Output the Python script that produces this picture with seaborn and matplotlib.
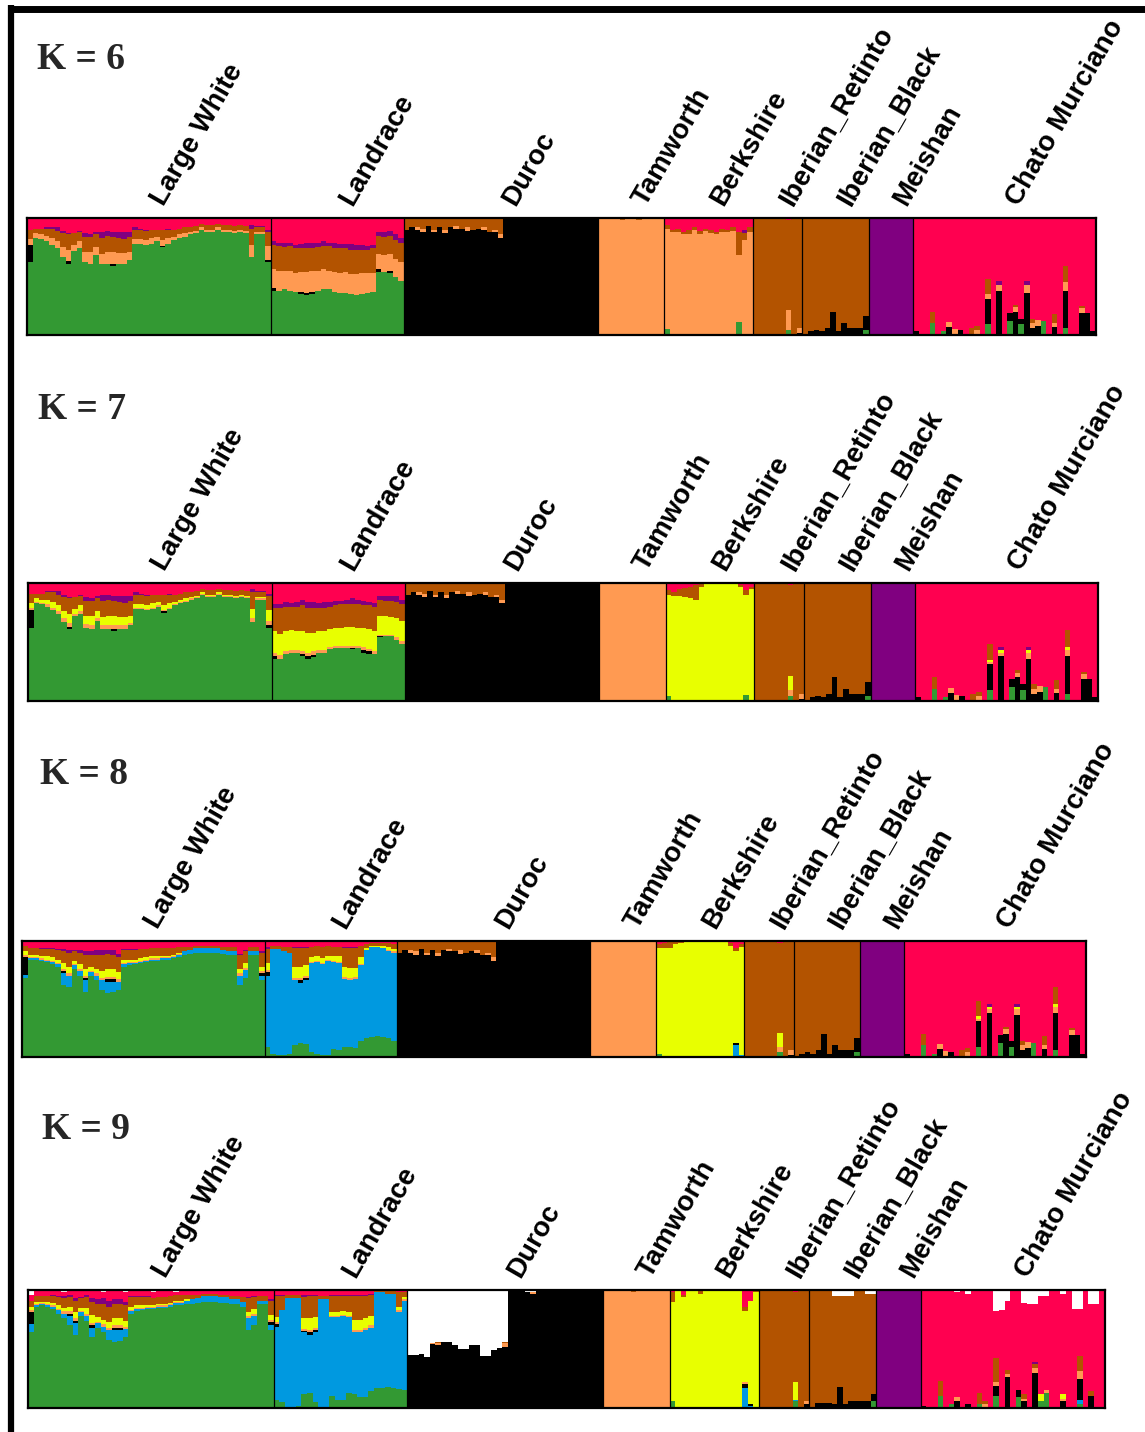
import numpy as np
import pandas as pd
import matplotlib
matplotlib.use("Agg")
import matplotlib.pyplot as plt
from matplotlib.lines import Line2D
from matplotlib.transforms import blended_transform_factory, offset_copy
import seaborn as sns

# ---------------------------------------------------------------- breeds
breeds = ["Large White", "Landrace", "Duroc", "Tamworth", "Berkshire",
          "Iberian_Retinto", "Iberian_Black", "Meishan", "Chato Murciano"]
breed_sizes = [44, 24, 35, 12, 16, 9, 12, 8, 33]

cluster_colors = {
    "green": "#339933", "blue": "#0099e0", "black": "#000000",
    "lorange": "#ff9a52", "yellow": "#e8ff00", "brown": "#b35300",
    "purple": "#800080", "pink": "#ff0050", "white": "#ffffff",
}
# clusters from the bottom of a bar to its top
stack_order = ["green", "blue", "black", "lorange", "yellow",
               "brown", "purple", "pink", "white"]

# ---------------------------------------------------------------- K = 6 (percent membership)
lw6_green = [62,83,82,80,77,74,67,61,72,74,62,61,68,61,61,59,61,61,64,78,78,77,
             78,80,75,78,81,83,84,86,87,90,88,88,90,88,88,87,88,87,67,86,86,62]
lw6_black = {0: 15, 7: 2, 15: 2, 24: 1, 43: 2}
lw6_lorange = [5,4,4,5,6,6,8,10,5,6,9,10,7,8,10,10,9,9,7,4,4,4,
               5,4,5,5,3,3,3,2,2,2,2,2,2,2,2,2,2,2,10,2,2,12]
lw6_brown = [8,4,5,6,8,9,12,13,10,8,13,13,11,14,14,13,13,12,13,8,8,8,
             7,6,9,7,6,5,5,4,4,3,4,4,3,4,4,4,4,4,14,4,4,12]
lw6_purple = [0,0,0,1,1,3,2,1,0,1,3,2,2,5,4,4,5,6,4,2,1,1,
              0,0,0,1,0,0,0,0,0,0,0,0,0,0,0,0,0,0,3,1,1,2]

lr6_green = [38,38,39,38,37,35,34,35,38,39,39,37,36,36,35,34,35,36,37,54,54,53,50,46]
lr6_black = {0: 2, 5: 2, 6: 2, 7: 2, 19: 2, 21: 2}
lr6_lorange = [16,17,16,17,16,17,18,18,17,17,16,17,17,18,17,18,18,17,16,13,14,14,15,16]
lr6_brown = [21,21,20,21,21,20,20,19,20,20,21,20,21,20,21,21,20,20,21,16,16,16,16,17]
lr6_purple = [3,3,4,3,3,4,5,5,4,4,3,5,4,4,5,4,4,3,3,3,4,4,5,4]

du_brown = [10,8,8,9,7,10,8,10,8,7,9,8,10,9,8,12,10,14,1,1,
            0,0,0,0,0,0,0,0,0,0,0,0,0,0,0]
du_lorange = {2: 2, 3: 3, 5: 2, 7: 3, 9: 2, 11: 3, 14: 2, 16: 2, 17: 3}

ta6_brown = {0: 1, 4: 2, 7: 2, 9: 1}

be6_pink = [6,10,9,12,10,8,11,9,10,12,9,10,8,12,10,8]
be6_brown = [3,2,3,2,4,2,3,2,3,2,3,2,3,20,6,4]
be6_purple = {14: 3}
be6_green = {0: 5, 13: 11, 14: 1}

ir6_green = {6: 4}
ir6_lorange = {6: 17, 8: 4}
ir6_black = {8: 2}
ir6_pink = {6: 2}

ib_black = [0,3,4,3,6,20,3,10,6,6,6,12]
ib_green = {11: 4}

cm6_spikes = {
    0: dict(black=3), 3: dict(green=10, brown=10), 5: dict(green=3),
    6: dict(black=7, lorange=4), 7: dict(lorange=5), 8: dict(black=4),
    10: dict(brown=6), 11: dict(lorange=4, brown=4),
    13: dict(green=9, black=22, lorange=4, brown=13),
    15: dict(black=38, lorange=5, purple=3), 17: dict(green=12, black=7),
    18: dict(black=20, lorange=4, brown=2), 19: dict(green=9, black=5),
    20: dict(black=36, lorange=7, purple=3),
    21: dict(black=6, lorange=4, brown=4), 22: dict(black=8, lorange=5),
    23: dict(green=12), 25: dict(black=7, lorange=3, brown=8),
    27: dict(green=6, black=32, lorange=7, brown=14),
    30: dict(black=19, lorange=4, brown=2), 31: dict(black=19), 32: dict(black=3),
}

# ---------------------------------------------------------------- K = 7
lw7_lorange = [2,1,1,2,2,2,3,3,2,2,3,3,2,3,3,3,3,3,2,1,1,1,
               1,1,1,1,1,1,1,1,1,1,1,1,1,1,1,1,1,1,3,1,1,4]
lw7_yellow = [4,3,3,4,5,5,6,8,4,5,7,8,6,7,8,8,7,7,6,3,3,3,
              4,3,4,4,2,2,2,1,1,1,1,1,1,1,1,1,1,1,8,1,1,9]

lr7_green = [36,36,40,41,41,38,36,37,41,41,44,45,45,45,44,45,41,40,40,54,55,55,52,48]
lr7_black = {0: 2, 5: 2, 6: 2, 7: 2, 14: 1, 16: 2, 17: 2, 19: 1}
lr7_lorange = [3,3,2,2,2,2,3,3,2,2,2,2,2,2,2,2,3,2,2,1,1,1,2,3]
lr7_yellow = [18,18,17,17,16,17,17,16,16,16,15,15,15,16,16,15,16,17,17,16,16,15,16,17]
lr7_brown = [20,22,21,20,21,22,21,21,20,20,19,19,20,19,19,20,19,20,21,14,13,14,14,14]
lr7_purple = [3,3,4,3,4,5,5,5,4,5,4,4,3,4,5,4,4,3,3,3,4,4,5,4]

be7_pink = [6,8,5,4,3,2,1,1,1,1,1,1,1,2,6,3]
be7_brown = [4,3,6,8,10,12,2,0,0,0,0,0,0,1,4,2]
be7_green = {0: 4, 14: 5, 15: 1}

ir7_lorange = {6: 5, 8: 4}
ir7_yellow = {6: 12}

cm78_spikes = {
    0: dict(black=3), 3: dict(green=10, brown=10), 5: dict(green=3),
    6: dict(black=7, lorange=4), 7: dict(lorange=5), 8: dict(black=4),
    10: dict(brown=6), 11: dict(lorange=4, brown=4),
    13: dict(green=9, black=22, lorange=2, yellow=2, brown=13),
    15: dict(black=38, lorange=3, yellow=2, purple=3), 17: dict(green=12, black=7),
    18: dict(black=20, lorange=4, brown=2), 19: dict(green=9, black=5),
    20: dict(black=36, lorange=5, yellow=2, purple=3),
    21: dict(black=6, lorange=4, brown=4), 22: dict(black=8, lorange=5),
    23: dict(green=12), 25: dict(black=7, lorange=3, brown=8),
    27: dict(green=6, black=32, lorange=5, yellow=3, brown=14),
    30: dict(black=19, lorange=4, brown=2), 31: dict(black=19), 32: dict(black=3),
}

# ---------------------------------------------------------------- K = 8
lw8_green = [68,84,84,83,82,80,78,62,60,76,70,56,70,66,58,55,56,58,78,79,80,81,
             82,83,83,84,84,85,86,88,89,90,90,90,90,90,89,88,88,62,68,88,88,66]
lw8_blue = [3,1,1,1,1,2,2,10,10,3,4,10,3,4,8,10,9,7,2,2,1,1,
            1,1,1,1,1,1,2,3,3,4,4,4,4,4,3,3,3,8,7,3,3,4]
lw8_black = {0: 15, 7: 2, 11: 2, 15: 2, 16: 2, 43: 2}
lw8_yellow = [3,2,2,2,3,3,3,5,6,3,4,6,4,4,6,7,7,6,3,2,2,2,
              2,2,2,1,1,1,1,0,0,0,0,0,0,0,0,0,0,4,4,0,0,4]
lw8_lorange = [2,1,1,1,1,1,1,2,2,1,2,2,1,2,2,2,2,2,1,1,1,1,
               1,1,1,1,1,1,1,0,0,0,0,0,0,0,0,0,0,2,2,0,0,2]
lw8_brown = [5,6,6,6,6,7,8,10,12,8,10,12,10,12,14,13,12,13,8,8,8,8,
             7,7,7,7,7,6,5,4,3,2,2,2,2,2,3,4,4,12,10,4,4,12]
lw8_purple = [0,0,0,1,1,1,1,2,2,1,2,3,3,4,4,3,4,3,1,1,1,0,
              0,0,0,0,0,0,0,0,0,0,0,0,0,0,0,0,0,1,1,0,0,1]

lr8_green = [9,3,2,2,3,10,12,11,4,3,2,2,7,6,9,9,8,14,16,17,18,17,16,14]
lr8_black = {0: 3, 6: 2, 7: 2}
lr8_yellow = [6,0,0,0,0,10,10,9,4,4,4,3,4,5,9,9,8,6,2,1,1,2,3,2]
lr8_lorange = [2,0,0,0,0,2,2,2,1,1,1,1,1,1,2,2,2,1,0,0,0,0,1,1]
lr8_brown = [12,3,3,4,5,16,16,15,9,9,10,9,8,8,16,17,17,10,3,2,2,2,3,4]
lr8_purple = {0: 2, 5: 1, 6: 1, 7: 1, 14: 1, 15: 1, 16: 1}
lr8_pink = [5,4,4,5,5,5,5,5,5,4,5,4,5,5,5,5,5,4,3,2,2,2,2,3]

be8_pink = [3,2,1,1,1,0,0,0,0,0,0,0,1,2,6,3]
be8_brown = [3,4,5,2,1,0,0,0,0,0,0,0,0,2,3,2]
be8_blue = {14: 10, 15: 2}
be8_black = {14: 2}
be8_green = {0: 3}

# ---------------------------------------------------------------- K = 9
lw9_green = [64,86,87,86,84,80,76,70,62,78,74,60,68,64,58,56,57,60,80,82,83,84,
             84,85,85,86,87,87,88,88,89,90,90,90,89,89,88,88,86,66,70,88,88,66]
lw9_blue = [7,1,1,1,2,3,4,8,10,3,4,8,4,5,8,10,9,7,2,2,1,1,
            1,1,1,1,2,2,3,4,4,5,5,5,5,5,4,4,4,10,8,3,3,4]
lw9_black = {0: 10, 7: 2, 8: 2, 11: 2, 15: 2, 16: 2, 43: 3}
lw9_yellow = [3,2,1,2,2,3,3,4,5,3,5,7,4,4,5,6,6,5,3,2,2,1,
              1,1,1,1,1,1,1,0,0,0,0,0,0,0,0,0,0,3,4,0,0,4]
lw9_lorange = [2,1,1,1,1,1,2,2,2,1,2,2,1,2,2,2,2,2,1,1,1,1,
               1,1,1,1,1,1,0,0,0,0,0,0,0,0,0,0,0,2,2,0,0,2]
lw9_brown = [5,5,5,5,6,7,8,8,10,8,9,11,11,13,13,12,12,13,8,7,7,7,
             6,6,6,6,5,5,4,4,3,2,2,2,2,2,3,3,4,12,10,4,4,12]
lw9_purple = [0,0,0,0,1,1,2,2,2,1,2,3,4,5,5,4,4,3,1,1,1,1,
              0,0,0,0,0,0,0,0,0,0,0,0,0,0,0,0,0,1,1,0,0,1]
lw9_white = {0: 4, 6: 2, 13: 2, 17: 2, 22: 2, 26: 2}

lr9_green = [7,5,1,1,2,12,13,5,1,1,10,7,7,13,12,9,9,14,17,17,18,17,16,15]
lr9_black = {0: 2, 5: 1, 6: 2, 7: 2}
lr9_yellow = [4,0,0,0,0,9,10,9,0,0,3,3,3,3,9,9,8,8,0,0,0,0,3,2]
lr9_lorange = [2,0,0,0,0,2,2,2,0,0,1,1,1,1,2,2,2,2,0,0,0,0,2,1]
lr9_brown = [18,12,3,3,3,18,19,18,3,3,14,14,13,14,20,20,19,18,1,1,2,2,12,4]
lr9_purple = [1,1,0,0,0,2,1,1,0,0,1,1,1,1,1,1,1,1,0,0,0,0,0,0]
lr9_pink = [4,4,4,4,4,4,4,4,5,5,4,4,4,4,4,4,4,3,1,1,1,1,2,2]

du9_black = [45,45,46,43,54,53,56,56,53,50,50,53,53,44,44,49,51,52,
             100,100,100,98,97,100,100,100,100,100,100,100,100,100,100,100,100]
du9_lorange = {4: 1, 5: 2, 17: 3, 22: 1}
du9_brown = {5: 1, 17: 1}

ta9_brown = {5: 2}

be9_spikes = {
    0: dict(green=6, brown=8, pink=2), 2: dict(brown=2, pink=4), 5: dict(brown=3),
    13: dict(blue=17, black=3, lorange=2, brown=4, pink=14),
    14: dict(blue=2, black=1, pink=9), 15: dict(brown=2),
}

ir9_spikes = {6: dict(green=6, blue=1, yellow=15, pink=2), 8: dict(black=3, lorange=3)}

ib9_black = [0,4,4,4,3,18,3,6,6,6,6,6]
ib9_green = {11: 6}
ib9_white = {4: 5, 5: 5, 6: 5, 7: 5, 10: 3, 11: 3}

cm9_spikes = {
    0: dict(black=2), 3: dict(green=10, brown=13), 5: dict(green=3),
    6: dict(black=6, lorange=3), 8: dict(black=3), 10: dict(green=3, brown=10),
    11: dict(lorange=3, brown=3), 13: dict(green=10, black=9, lorange=3, brown=20),
    15: dict(black=26, lorange=3, brown=3), 17: dict(green=9, black=6),
    18: dict(black=6, lorange=2, brown=4),
    20: dict(black=30, lorange=4, brown=3, purple=2),
    21: dict(green=6, yellow=6), 22: dict(green=13, lorange=2),
    25: dict(black=6, lorange=2, yellow=4),
    28: dict(green=3, blue=4, black=18, lorange=6, brown=13),
    30: dict(black=10, brown=4),
}
cm9_white = {6: 2, 8: 3, 13: 18, 14: 17, 15: 9, 18: 11, 19: 12, 20: 12,
             21: 5, 22: 5, 25: 3, 27: 16, 28: 16, 30: 12, 31: 12}


# ---------------------------------------------------------------- helpers
def spikes(table, extra=None):
    """Turn {individual: {cluster: pct}} into {cluster: {individual: pct}}."""
    parts = {}
    for idx, comps in table.items():
        for comp, v in comps.items():
            parts.setdefault(comp, {})[idx] = v
    for comp, vals in (extra or {}).items():
        parts[comp] = vals
    return parts


def breed_columns(n, main, parts):
    cols = {}
    for comp, vals in parts.items():
        arr = np.zeros(n)
        if isinstance(vals, dict):
            for k, v in vals.items():
                arr[k] = v
        else:
            arr[:] = vals
        cols[comp] = arr
    cols[main] = 100 - sum(cols.values(), np.zeros(n))
    return cols


panels = {
    6: [
        ("pink", dict(green=lw6_green, black=lw6_black, lorange=lw6_lorange,
                      brown=lw6_brown, purple=lw6_purple)),
        ("pink", dict(green=lr6_green, black=lr6_black, lorange=lr6_lorange,
                      brown=lr6_brown, purple=lr6_purple)),
        ("black", dict(lorange=du_lorange, brown=du_brown)),
        ("lorange", dict(brown=ta6_brown)),
        ("lorange", dict(green=be6_green, brown=be6_brown, purple=be6_purple, pink=be6_pink)),
        ("brown", dict(green=ir6_green, black=ir6_black, lorange=ir6_lorange, pink=ir6_pink)),
        ("brown", dict(green=ib_green, black=ib_black)),
        ("purple", {}),
        ("pink", spikes(cm6_spikes)),
    ],
    7: [
        ("pink", dict(green=lw6_green, black=lw6_black, lorange=lw7_lorange,
                      yellow=lw7_yellow, brown=lw6_brown, purple=lw6_purple)),
        ("pink", dict(green=lr7_green, black=lr7_black, lorange=lr7_lorange,
                      yellow=lr7_yellow, brown=lr7_brown, purple=lr7_purple)),
        ("black", dict(lorange=du_lorange, brown=du_brown)),
        ("lorange", {}),
        ("yellow", dict(green=be7_green, brown=be7_brown, pink=be7_pink)),
        ("brown", dict(green=ir6_green, black=ir6_black, lorange=ir7_lorange,
                       yellow=ir7_yellow, pink=ir6_pink)),
        ("brown", dict(green=ib_green, black=ib_black)),
        ("purple", {}),
        ("pink", spikes(cm78_spikes)),
    ],
    8: [
        ("pink", dict(green=lw8_green, blue=lw8_blue, black=lw8_black, lorange=lw8_lorange,
                      yellow=lw8_yellow, brown=lw8_brown, purple=lw8_purple)),
        ("blue", dict(green=lr8_green, black=lr8_black, lorange=lr8_lorange, yellow=lr8_yellow,
                      brown=lr8_brown, purple=lr8_purple, pink=lr8_pink)),
        ("black", dict(lorange=du_lorange, brown=du_brown)),
        ("lorange", {}),
        ("yellow", dict(green=be8_green, blue=be8_blue, black=be8_black,
                        brown=be8_brown, pink=be8_pink)),
        ("brown", dict(green=ir6_green, black=ir6_black, lorange=ir7_lorange,
                       yellow=ir7_yellow, pink=ir6_pink)),
        ("brown", dict(green=ib_green, black=ib_black)),
        ("purple", {}),
        ("pink", spikes(cm78_spikes)),
    ],
    9: [
        ("pink", dict(green=lw9_green, blue=lw9_blue, black=lw9_black, lorange=lw9_lorange,
                      yellow=lw9_yellow, brown=lw9_brown, purple=lw9_purple, white=lw9_white)),
        ("blue", dict(green=lr9_green, black=lr9_black, lorange=lr9_lorange, yellow=lr9_yellow,
                      brown=lr9_brown, purple=lr9_purple, pink=lr9_pink)),
        ("white", dict(black=du9_black, lorange=du9_lorange, brown=du9_brown)),
        ("lorange", dict(brown=ta9_brown)),
        ("yellow", spikes(be9_spikes)),
        ("brown", spikes(ir9_spikes)),
        ("brown", dict(green=ib9_green, black=ib9_black, white=ib9_white)),
        ("purple", {}),
        ("pink", spikes(cm9_spikes, dict(white=cm9_white))),
    ],
}

# panel rectangles in pixels: left, top, right, bottom ; K-label position
FIG_W, FIG_H = 1145, 1432
panel_px = {6: (27, 218, 1096, 335), 7: (28, 583, 1098, 701),
            8: (22, 941, 1086, 1057), 9: (28, 1290, 1105, 1408)}
klabel_px = {6: (37, 69), 7: (38, 419), 8: (40, 784), 9: (42, 1139)}

sns.set_theme(style="white")
plt.rcParams["font.family"] = ["Liberation Sans", "DejaVu Sans"]

fig = plt.figure(figsize=(FIG_W / 100, FIG_H / 100), dpi=100)
fig.patch.set_facecolor("white")

n_total = sum(breed_sizes)
starts = np.concatenate([[0], np.cumsum(breed_sizes)[:-1]])
centers = starts + np.array(breed_sizes) / 2 - 0.5

for K, spec in panels.items():
    rows = []
    for (main, parts), n, s in zip(spec, breed_sizes, starts):
        cols = breed_columns(n, main, parts)
        for comp, arr in cols.items():
            for j, v in enumerate(arr):
                rows.append((s + j, comp, v / 100.0))
    df = pd.DataFrame(rows, columns=["individual", "cluster", "q"])
    present = set(df["cluster"])
    hue_order = [c for c in stack_order[::-1] if c in present]

    l, t, r, b = panel_px[K]
    ax = fig.add_axes([l / FIG_W, 1 - b / FIG_H, (r - l) / FIG_W, (b - t) / FIG_H])
    sns.histplot(data=df, x="individual", weights="q", hue="cluster",
                 hue_order=hue_order, palette=cluster_colors, multiple="stack",
                 discrete=True, shrink=1, alpha=1, linewidth=0,
                 antialiased=False, legend=False, ax=ax)
    ax.set_xlim(-0.5, n_total - 0.5)
    ax.set_ylim(0, 1)
    ax.set_xticks([])
    ax.set_yticks([])
    ax.set_xlabel("")
    ax.set_ylabel("")
    for sp in ax.spines.values():
        sp.set_color("black")
        sp.set_linewidth(1.6)
        sp.set_zorder(5)
    for s in starts[1:]:
        ax.axvline(s - 0.5, color="black", lw=0.9, zorder=4)

    # breed names, written upward from just above each block
    trans = blended_transform_factory(ax.transData, ax.transAxes)
    trans = offset_copy(trans, fig=fig, x=20, y=8, units="dots")
    for name, c in zip(breeds, centers):
        ax.text(c, 1.0, name, transform=trans, rotation=60,
                rotation_mode="anchor", ha="left", va="bottom",
                fontsize=20, fontweight="bold", color="black", clip_on=False)

    kx, ky = klabel_px[K]
    fig.text(kx / FIG_W, 1 - ky / FIG_H, f"K = {K}", family="Liberation Serif",
             fontweight="bold", fontsize=27, ha="left", va="baseline")

# outer frame on the top and left edges
fig.add_artist(Line2D([8 / FIG_W, 1], [1 - 8.5 / FIG_H] * 2, color="black", lw=5.0,
                      solid_capstyle="butt"))
fig.add_artist(Line2D([11 / FIG_W] * 2, [0, 1 - 5 / FIG_H], color="black", lw=4.5,
                      solid_capstyle="butt"))

fig.savefig("out.png", dpi=100, facecolor="white")
